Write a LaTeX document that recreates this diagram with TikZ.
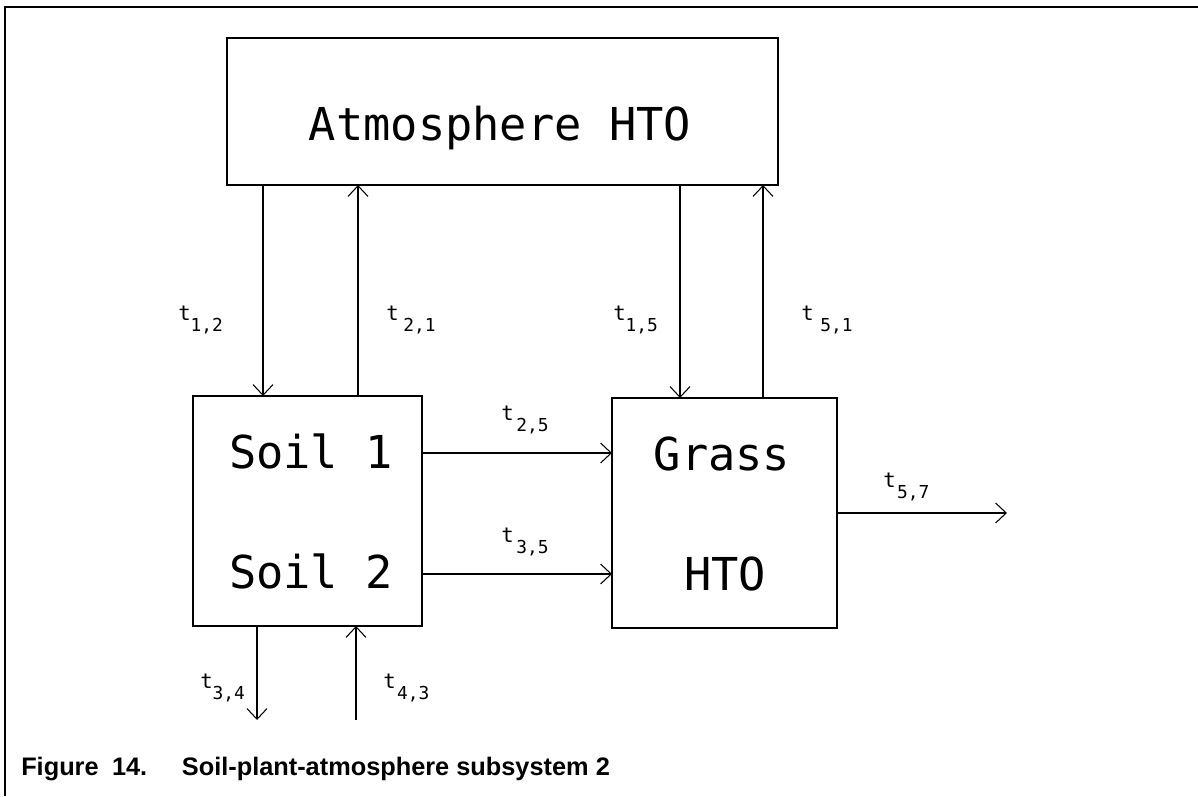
\documentclass[tikz,border=0pt]{standalone}
\usepackage{fontspec}
\usetikzlibrary{arrows.meta}
\newfontfamily\plotfont{DejaVu Sans Mono}
\newfontfamily\capfont{Liberation Sans}
\begin{document}
\begin{tikzpicture}[x=0.75pt,y=-0.75pt,
  box/.style={draw, line width=1.3pt, inner sep=0pt, outer sep=0pt},
  arr/.style={-{Straight Barb[length=8pt,width=15pt,line width=0.8pt]}, line width=0.8pt},
  big/.style={font=\plotfont\fontsize{34}{34}\selectfont, anchor=base, inner sep=0pt},
  lbl/.style={font=\plotfont\fontsize{15.5}{15.5}\selectfont, anchor=base west, inner sep=0pt},
  frameline/.style={line width=1.3pt}]
\useasboundingbox (0,0) rectangle (1198,796);
\newcommand\subs[1]{\raisebox{-8.5pt}{\fontsize{13.4}{13.4}\selectfont #1}}
% frame
\draw[frameline] (5,796) -- (5,7) -- (1198,7);
% boxes
\node[box, minimum width={551*0.75pt}, minimum height={147*0.75pt}] (atm) at (502.5,111.5) {};
\node[box, minimum width={229*0.75pt}, minimum height={230*0.75pt}] (soil) at (307.5,511) {};
\node[box, minimum width={225*0.75pt}, minimum height={230*0.75pt}] (grass) at (724.5,513) {};
% box texts
\node[big] (atmtxt) at (500,140) {Atmosphere HTO};
\node[big] (soil1) at (311,468) {Soil 1};
\node[big] (soil2) at (311,588) {Soil 2};
\node[big] (grasstxt) at (722,470) {Grass};
\node[big] (htotxt) at (725,590) {HTO};
% x positions of vertical connectors
\coordinate (x12) at (263,0);
\coordinate (x21) at (358,0);
\coordinate (x15) at (680,0);
\coordinate (x51) at (763,0);
\coordinate (y25) at (0,453);
\coordinate (y35) at (0,574);
\coordinate (y57) at (0,513);
\coordinate (e57) at (1007,513);
\coordinate (e34) at (257,720);
\coordinate (e43) at (356,720);
% connectors
\draw[arr] (x12 |- atm.south) -- (x12 |- soil.north);
\draw[arr] (x21 |- soil.north) -- (x21 |- atm.south);
\draw[arr] (x15 |- atm.south) -- (x15 |- grass.north);
\draw[arr] (x51 |- grass.north) -- (x51 |- atm.south);
\draw[arr] (soil.east |- y25) -- (grass.west |- y25);
\draw[arr] (soil.east |- y35) -- (grass.west |- y35);
\draw[arr] (grass.east |- y57) -- (e57);
\draw[arr] (soil.south -| e34) -- (e34);
\draw[arr] (e43) -- (soil.south -| e43);
% labels
\node[lbl] (l12) at (178,320) {t\subs{1,2}};
\node[lbl] (l21) at (386,320) {t\hspace{3.5pt}\subs{2,1}};
\node[lbl] (l15) at (613,320) {t\subs{1,5}};
\node[lbl] (l51) at (801,320) {t\hspace{5pt}\subs{5,1}};
\node[lbl] (l25) at (501,420) {t\hspace{2pt}\subs{2,5}};
\node[lbl] (l35) at (501,542) {t\hspace{2pt}\subs{3,5}};
\node[lbl] (l57) at (883,487) {t\hspace{1pt}\subs{5,7}};
\node[lbl] (l34) at (200,688) {t\subs{3,4}};
\node[lbl] (l43) at (383,688) {t\hspace{1pt}\subs{4,3}};
% caption
\node[anchor=base west, inner sep=0pt, font=\capfont\bfseries\fontsize{19}{20}\selectfont] (cap) at (21,775) {Figure\hspace{10pt}14.\hspace{26pt}Soil-plant-atmosphere subsystem 2};
\end{tikzpicture}
\end{document}
